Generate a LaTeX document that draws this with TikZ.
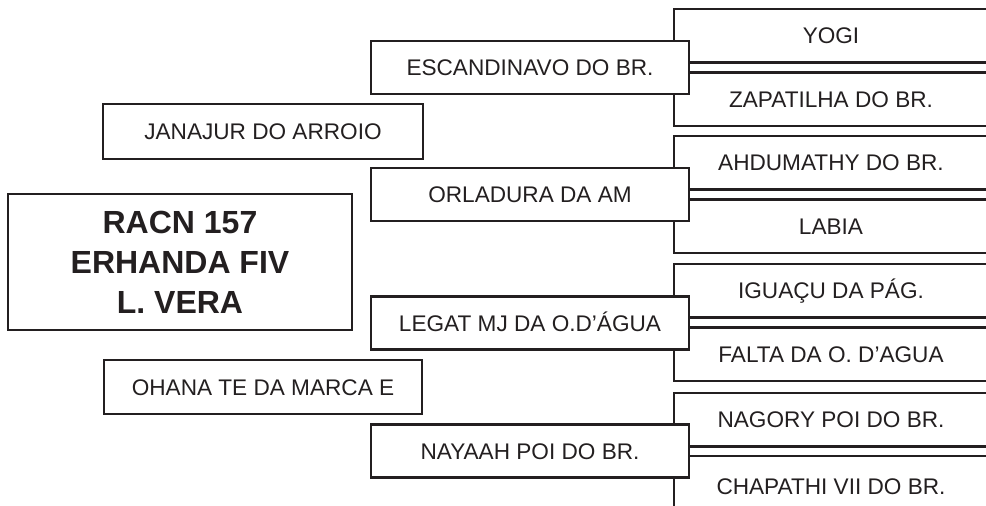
\documentclass[tikz,border=0pt]{standalone}
\usepackage{fontspec}
\setmainfont{Liberation Sans}
\definecolor{ink}{HTML}{231F20}
\tikzset{
  box/.style={draw=ink, line width=2.2pt, fill=white, text=ink, inner sep=0pt,
    anchor=center, font=\fontsize{22.6}{26}\selectfont,
    text height=16.2pt, text depth=0pt},
  mainbox/.style={draw=ink, line width=2.2pt, fill=white, text=ink, inner sep=0pt,
    anchor=center, align=center, font=\fontsize{32}{40}\selectfont\bfseries},
  sidebox/.style={box, minimum width=318pt, minimum height=53.5pt},
  parentbox/.style={box, minimum width=318pt, minimum height=53pt},
  gpbox/.style={box, minimum width=314pt, minimum height=53.5pt},
}
\begin{document}
\begin{tikzpicture}[x=1pt,y=-1pt]
\clip (0,0) rectangle (986,506);
\fill[white] (0,0) rectangle (986,506);

% grandparents (right column, open to the right)
\node[gpbox] (g1) at (831,35.75)  {YOGI};
\node[gpbox] (g2) at (831,99.25)  {ZAPATILHA DO BR.};
\node[gpbox] (g3) at (831,162.75) {AHDUMATHY DO BR.};
\node[gpbox] (g4) at (831,226.25) {LABIA};
\node[gpbox] (g5) at (831,290.75) {IGUAÇU DA PÁG.};
\node[gpbox] (g6) at (831,354.25) {FALTA DA O. D’AGUA};
\node[gpbox] (g7) at (831,419.75) {NAGORY POI DO BR.};
\node[gpbox, minimum height=60pt] (g8) at (831,486) {CHAPATHI VII DO BR.};

% parents
\node[parentbox] (p1) at (530,67.5)  {ESCANDINAVO DO BR.};
\node[parentbox] (p2) at (530,194.5) {ORLADURA DA AM};
\node[parentbox] (p3) at (530,323)   {LEGAT MJ DA O.D’ÁGUA};
\node[parentbox] (p4) at (530,451)   {NAYAAH POI DO BR.};

% left column
\node[sidebox, minimum width=320pt, minimum height=55pt] (s1) at (263,131.5) {JANAJUR DO ARROIO};
\node[sidebox, minimum height=54pt] (s2) at (263,387) {OHANA TE DA MARCA E};
\node[mainbox, minimum width=344pt, minimum height=136pt] (m) at (180,262)
  {RACN 157\\ERHANDA FIV\\L. VERA};
\end{tikzpicture}
\end{document}
